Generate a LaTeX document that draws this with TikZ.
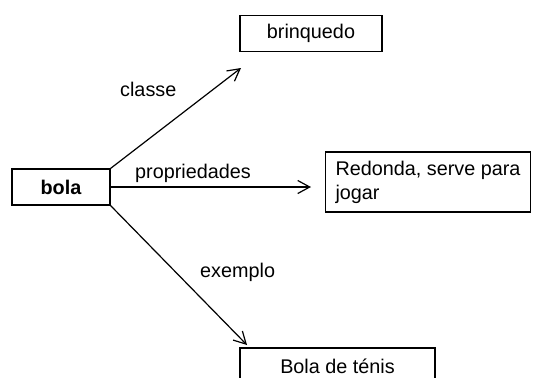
\documentclass[tikz,border=0pt]{standalone}
\usepackage{fontspec}
\setmainfont{Liberation Sans}
\usetikzlibrary{arrows.meta}
\tikzset{
  box/.style={draw, line width=1.2pt, inner xsep=10pt, minimum height=36pt,
    font=\fontsize{19.8}{24}\selectfont},
  lbl/.style={anchor=base west, inner sep=0pt, font=\fontsize{19.8}{24}\selectfont},
  link/.style={line width=1.2pt, -{Straight Barb[length=12pt,width=13pt]}}
}
\begin{document}
\begin{tikzpicture}[x=1pt,y=-1pt]
  \useasboundingbox (0,0) rectangle (539,378);
  \node[box, minimum width=98pt] (Bola) at (61,187) {\bfseries bola};
  \node[box, minimum width=142pt] (Brinquedo) at (311,33.5) {brinquedo};
  \node[box, minimum width=204pt, minimum height=60pt, align=left] (Redonda) at (428,182)
    {Redonda, serve para\\jogar};
  \node[box, minimum width=195pt] (Tenis) at (337.5,366) {Bola de ténis};
  % free ends of the arrows
  \coordinate (ClasseEnd) at (241,68);
  \coordinate (PropEnd) at (311,187);
  \coordinate (ExemploEnd) at (247,345);
  \draw[link] (Bola.north east) -- (ClasseEnd);
  \draw[link] (Bola.east) -- (PropEnd);
  \draw[link] (Bola.south east) -- (ExemploEnd);
  \node[lbl] (Classe) at (120,96) {classe};
  \node[lbl] (Prop) at (135,178) {propriedades};
  \node[lbl] (Exemplo) at (200,277) {exemplo};
\end{tikzpicture}
\end{document}
